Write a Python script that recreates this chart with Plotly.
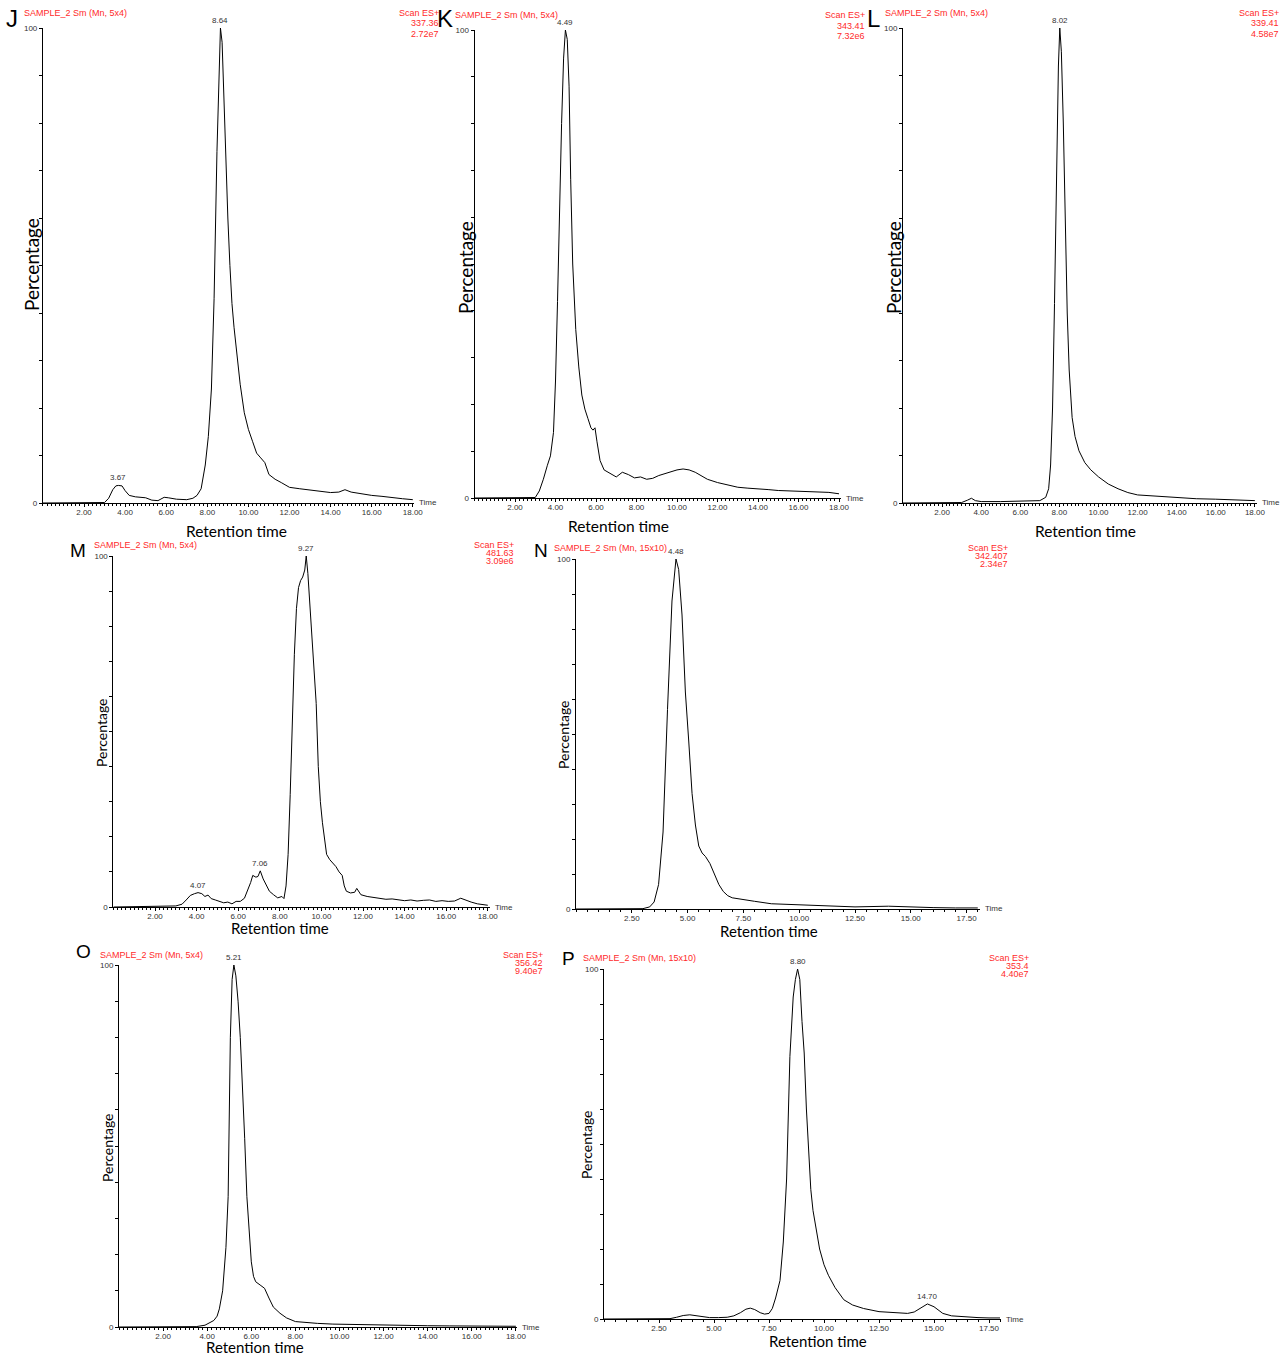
import numpy as np
import plotly.graph_objects as go

W, H = 1287, 1356

# ---------------- data ----------------
j_t = [0, 1.0, 2.0, 3.0, 3.2, 3.4, 3.55, 3.67, 3.85, 4.0,
       4.2, 4.5, 5.0, 5.3, 5.6, 5.9, 6.1, 6.5, 7.0, 7.3,
       7.5, 7.7, 7.9, 8.05, 8.2, 8.33, 8.47, 8.57, 8.64, 8.72,
       8.8, 8.9, 9.0, 9.1, 9.2, 9.3, 9.45, 9.6, 9.8, 10.0,
       10.2, 10.4, 10.6, 10.8, 11.0, 11.3, 11.6, 12.0, 12.5, 13.0,
       13.5, 14.0, 14.4, 14.7, 15.0, 15.5, 16.0, 16.5, 17.0, 17.5,
       18.0]
j_v = [0, 0, 0, 0.1, 1.0, 2.8, 3.6, 3.7, 3.6, 2.6,
       1.6, 1.3, 1.1, 0.6, 0.5, 1.2, 1.1, 0.8, 0.7, 1.0,
       1.6, 3, 8, 14, 24, 43, 74, 93, 100, 97,
       86, 72, 60, 50, 42, 37, 31, 25, 19, 15.5,
       13, 10.5, 9.5, 8.5, 6.0, 5.0, 4.3, 3.3, 3.0, 2.7,
       2.5, 2.2, 2.3, 2.8, 2.3, 1.9, 1.6, 1.4, 1.1, 0.9,
       0.7]

k_t = [0, 1, 2, 3.0, 3.2, 3.4, 3.6, 3.75, 3.9, 4.0,
       4.1, 4.2, 4.3, 4.4, 4.49, 4.58, 4.67, 4.75, 4.85, 5.0,
       5.15, 5.3, 5.45, 5.6, 5.75, 5.85, 5.95, 6.05, 6.2, 6.4,
       6.6, 6.8, 7.0, 7.3, 7.6, 7.9, 8.2, 8.5, 8.8, 9.1,
       9.4, 9.7, 10.0, 10.3, 10.6, 10.9, 11.2, 11.5, 12.0, 12.5,
       13.0, 13.5, 14.0, 14.5, 15.0, 15.5, 16.0, 16.5, 17.0, 17.5,
       18.0]
k_v = [0, 0, 0, 0.1, 1.5, 4, 7, 9, 14, 25,
       42, 62, 80, 94, 100, 98, 88, 68, 50, 36,
       28, 22, 19, 17, 15, 14.5, 15, 12, 8, 6,
       5.5, 5, 4.5, 5.5, 5, 4.3, 4.5, 4.0, 4.2, 4.8,
       5.2, 5.5, 6.0, 6.2, 6.0, 5.5, 4.8, 4.0, 3.3, 2.8,
       2.3, 2.1, 2.0, 1.8, 1.6, 1.5, 1.5, 1.4, 1.3, 1.2,
       0.9]

l_t = [0, 2, 3.0, 3.3, 3.5, 3.7, 4.0, 5.0, 6.0, 7.0,
       7.3, 7.45, 7.55, 7.65, 7.75, 7.85, 7.95, 8.02, 8.1, 8.2,
       8.3, 8.4, 8.5, 8.65, 8.8, 9.0, 9.3, 9.6, 10.0, 10.5,
       11.0, 11.5, 12.0, 13.0, 14.0, 15.0, 16.0, 17.0, 18.0]
l_v = [0, 0, 0.1, 0.6, 1.0, 0.5, 0.3, 0.3, 0.4, 0.5,
       1.2, 3, 8, 20, 42, 68, 92, 100, 95, 80,
       58, 40, 28, 18, 14, 11, 8.5, 7, 5.5, 4,
       3, 2.2, 1.7, 1.4, 1.1, 0.9, 0.8, 0.6, 0.5]

m_t = [0, 1.0, 2.0, 3.0, 3.3, 3.5, 3.7, 3.9, 4.07, 4.25,
       4.4, 4.55, 4.7, 4.9, 5.1, 5.3, 5.5, 5.7, 5.9, 6.1,
       6.3, 6.45, 6.6, 6.7, 6.85, 6.95, 7.06, 7.2, 7.35, 7.5,
       7.7, 7.9, 8.1, 8.2, 8.3, 8.4, 8.5, 8.6, 8.7, 8.8,
       8.9, 9.0, 9.1, 9.2, 9.27, 9.35, 9.45, 9.55, 9.65, 9.75,
       9.85, 9.95, 10.05, 10.15, 10.25, 10.4, 10.55, 10.7, 10.85, 11.0,
       11.1, 11.2, 11.4, 11.6, 11.7, 11.9, 12.2, 12.5, 12.8, 13.1,
       13.4, 13.7, 14.0, 14.3, 14.6, 14.9, 15.2, 15.5, 15.8, 16.1,
       16.4, 16.7, 16.9, 17.2, 17.5, 18.0]
m_v = [0, 0.2, 0.2, 0.3, 0.8, 2, 3.3, 3.8, 4.1, 3.8,
       3.0, 3.4, 2.4, 2.0, 1.5, 1.2, 1.4, 0.9, 1.6, 1.6,
       2.5, 4.5, 7, 9, 8.5, 8.7, 10.3, 8, 6, 4.5,
       3.5, 2.6, 3.0, 2.4, 6, 15, 32, 55, 72, 85,
       91, 93, 94, 96, 100, 95, 85, 75, 66, 58,
       40, 30, 24, 20, 15, 13.5, 12.5, 11.5, 10, 9,
       6, 4.5, 4.0, 4.2, 5.3, 3.5, 3.0, 2.8, 2.5, 2.2,
       2.3, 2.0, 1.8, 2.0, 1.7, 1.9, 2.0, 1.6, 1.8, 1.6,
       1.7, 2.5, 2.0, 1.4, 0.9, 0.5]

n_t = [0, 1, 2, 3.0, 3.3, 3.5, 3.7, 3.9, 4.1, 4.3,
       4.48, 4.6, 4.75, 4.9, 5.05, 5.2, 5.35, 5.5, 5.65, 5.8,
       6.0, 6.2, 6.4, 6.6, 6.8, 7.0, 7.5, 8.0, 8.75, 10.0,
       11.0, 12.5, 14.0, 15.0, 16.0, 17.0, 18.0]
n_v = [0, 0, 0, 0.1, 0.6, 2, 7, 22, 57, 88,
       100, 97, 84, 62, 48, 33, 24, 18, 16, 15,
       13, 10, 7, 5, 3.8, 3.2, 2.6, 2.2, 1.5, 1.2,
       1.0, 0.6, 0.8, 0.5, 0.4, 0.3, 0.3]

o_t = [0, 2, 3.5, 3.9, 4.1, 4.3, 4.45, 4.55, 4.7, 4.85,
       4.95, 5.05, 5.13, 5.21, 5.3, 5.4, 5.5, 5.6, 5.7, 5.8,
       5.9, 6.0, 6.1, 6.2, 6.4, 6.6, 6.8, 7.0, 7.3, 7.6,
       8.0, 8.5, 9.0, 9.7, 10.5, 11.5, 12.5, 14.0, 15.0, 16.0,
       17.0, 18.0]
o_v = [0, 0, 0.1, 0.5, 1.2, 1.8, 3, 5, 10, 22,
       36, 80, 96, 100, 97, 90, 80, 68, 52, 36,
       26, 18, 14, 12.5, 11.6, 10.7, 8, 5.5, 3.8, 2.5,
       1.5, 1.2, 1.0, 0.8, 0.7, 0.5, 0.4, 0.35, 0.3, 0.25,
       0.2, 0.2]

p_t = [0, 2, 3.0, 3.3, 3.6, 3.9, 4.2, 4.5, 4.8, 5.2,
       5.6, 5.9, 6.2, 6.45, 6.65, 6.85, 7.1, 7.3, 7.5, 7.65,
       7.8, 8.0, 8.15, 8.3, 8.45, 8.6, 8.7, 8.8, 8.9, 9.0,
       9.1, 9.2, 9.3, 9.4, 9.5, 9.6, 9.8, 10.0, 10.2, 10.5,
       10.9, 11.3, 11.8, 12.5, 13.2, 13.8, 14.1, 14.4, 14.7, 15.0,
       15.4, 15.8, 16.2, 17.0, 17.5, 18.0]
p_v = [0, 0, 0.1, 0.5, 1.0, 1.2, 1.0, 0.6, 0.4, 0.4,
       0.5, 0.9, 1.8, 2.8, 3.1, 2.7, 1.8, 1.4, 1.6, 3,
       6, 11, 22, 40, 75, 92, 97, 100, 97, 85,
       76, 60, 47, 37, 31, 27, 20, 15.5, 12.5, 9,
       5.5, 4, 3.0, 2.1, 1.8, 1.6, 2.0, 3.2, 4.3, 3.5,
       1.6, 0.9, 0.7, 0.4, 0.3, 0.3]

ticks_2 = [2, 4, 6, 8, 10, 12, 14, 16, 18]
ticks_2_labels = ["2.00", "4.00", "6.00", "8.00", "10.00", "12.00", "14.00", "16.00", "18.00"]
ticks_25 = [2.5, 5, 7.5, 10, 12.5, 15, 17.5]
ticks_25_labels = ["2.50", "5.00", "7.50", "10.00", "12.50", "15.00", "17.50"]
y_ticks = [0, 10, 20, 30, 40, 50, 60, 70, 80, 90, 100]
y_tick_labels = ["0", "", "", "", "", "", "", "", "", "", "100"]

# ---------------- panels (layout in pixels) ----------------
panels = [
    dict(letter="J", t=j_t, v=j_v, peaks=[3.67, 8.64], ticks=ticks_2, tl=ticks_2_labels, minor=0.2,
         x0=42.9, ppu=20.55, xmax=18.06, ybot=503, ytop=28,
         head="SAMPLE_2 Sm (Mn, 5x4)", mz="337.36", tic="2.72e7",
         letpos=(12, 18, 24), headpos=(22, 13), rpos=(441, 13, 10.5),
         rt=(236, 531, 15.5), pc=(32, 265, 19)),
    dict(letter="K", t=k_t, v=k_v, peaks=[4.49], ticks=ticks_2, tl=ticks_2_labels, minor=0.2,
         x0=474.5, ppu=20.25, xmax=18.1, ybot=498, ytop=30,
         head="SAMPLE_2 Sm (Mn, 5x4)", mz="343.41", tic="7.32e6",
         letpos=(445, 18, 24), headpos=(453, 15), rpos=(867, 15, 10.5),
         rt=(618, 526, 15.5), pc=(465, 268, 19)),
    dict(letter="L", t=l_t, v=l_v, peaks=[8.02], ticks=ticks_2, tl=ticks_2_labels, minor=0.2,
         x0=903, ppu=19.55, xmax=18.1, ybot=503, ytop=28,
         head="SAMPLE_2 Sm (Mn, 5x4)", mz="339.41", tic="4.58e7",
         letpos=(873, 18, 24), headpos=(883, 13), rpos=(1281, 13, 10.5),
         rt=(1085, 531, 15.5), pc=(893, 268, 19)),
    dict(letter="M", t=m_t, v=m_v, peaks=[4.07, 7.06, 9.27], ticks=ticks_2, tl=ticks_2_labels, minor=0.2,
         x0=113.4, ppu=20.8, xmax=18.1, ybot=907, ytop=556,
         head="SAMPLE_2 Sm (Mn, 5x4)", mz="481.63", tic="3.09e6",
         letpos=(78, 550, 19), headpos=(92, 545), rpos=(516, 545, 8),
         rt=(280, 928, 15), pc=(101, 733, 14)),
    dict(letter="N", t=n_t, v=n_v, peaks=[4.48], ticks=ticks_25, tl=ticks_25_labels, minor=0.5,
         x0=576, ppu=22.32, xmax=18.1, ybot=909, ytop=559,
         head="SAMPLE_2 Sm (Mn, 15x10)", mz="342.407", tic="2.34e7",
         letpos=(541, 550, 19), headpos=(552, 548), rpos=(1010, 548, 8),
         rt=(769, 931, 15), pc=(563, 735, 14)),
    dict(letter="O", t=o_t, v=o_v, peaks=[5.21], ticks=ticks_2, tl=ticks_2_labels, minor=0.2,
         x0=119, ppu=22.05, xmax=18.05, ybot=1327, ytop=965,
         head="SAMPLE_2 Sm (Mn, 5x4)", mz="356.42", tic="9.40e7",
         letpos=(83, 951, 19), headpos=(98, 955), rpos=(545, 955, 8),
         rt=(255, 1347, 15), pc=(107, 1148, 14)),
    dict(letter="P", t=p_t, v=p_v, peaks=[8.80, 14.70], ticks=ticks_25, tl=ticks_25_labels, minor=0.5,
         x0=604, ppu=22.0, xmax=18.03, ybot=1319, ytop=969,
         head="SAMPLE_2 Sm (Mn, 15x10)", mz="353.4", tic="4.40e7",
         letpos=(568, 958, 19), headpos=(581, 958), rpos=(1031, 958, 8),
         rt=(818, 1341, 15), pc=(586, 1145, 14)),
]

RED = "#ff2a2a"
SANS = "Liberation Sans, Arial, sans-serif"
LABEL = "Lato, Open Sans, sans-serif"

fig = go.Figure()
annotations = []


def txt(px, py, text, size, color="black", xanchor="left", yanchor="middle", angle=0, family=SANS):
    annotations.append(dict(x=px / W, y=1 - py / H, xref="paper", yref="paper", text=text,
                            showarrow=False, xanchor=xanchor, yanchor=yanchor, textangle=angle,
                            font=dict(size=size, color=color, family=family)))


layout_axes = {}
for i, p in enumerate(panels, start=1):
    xa = "x" if i == 1 else f"x{i}"
    ya = "y" if i == 1 else f"y{i}"
    fig.add_trace(go.Scatter(x=p["t"], y=p["v"], mode="lines", xaxis=xa, yaxis=ya,
                             line=dict(color="black", width=1), hoverinfo="skip"))
    xpx1 = p["x0"] + p["ppu"] * p["xmax"]
    layout_axes["xaxis" if i == 1 else f"xaxis{i}"] = dict(
        domain=[p["x0"] / W, xpx1 / W], range=[0, p["xmax"]], anchor=ya, automargin=False,
        showline=True, linecolor="black", linewidth=1, showgrid=False, zeroline=False,
        tickmode="array", tickvals=p["ticks"], ticktext=p["tl"], ticks="outside", ticklen=3,
        ticklabelstandoff=-2,
        tickcolor="black", tickfont=dict(size=8, color="#333", family=SANS),
        minor=dict(tickmode="linear", tick0=0, dtick=p["minor"], ticks="outside", ticklen=2,
                   tickcolor="black", showgrid=False),
    )
    layout_axes["yaxis" if i == 1 else f"yaxis{i}"] = dict(
        domain=[1 - p["ybot"] / H, 1 - p["ytop"] / H], range=[0, 100], anchor=xa, automargin=False,
        showline=True, linecolor="black", linewidth=1, showgrid=False, zeroline=False,
        tickmode="array", tickvals=y_ticks, ticktext=y_tick_labels, ticks="outside", ticklen=3,
        tickcolor="black", tickfont=dict(size=8, color="#333", family=SANS),
    )
    for pk in p["peaks"]:
        val = float(np.interp(pk, p["t"], p["v"]))
        annotations.append(dict(x=pk, y=val, xref=xa, yref=ya, text=f"{pk:.2f}", showarrow=False,
                                xanchor="center", yanchor="bottom", yshift=1,
                                font=dict(size=8, color="#333", family=SANS)))
    annotations.append(dict(x=p["xmax"], y=0, xref=xa, yref=ya, text="Time", showarrow=False,
                            xanchor="left", yanchor="middle", xshift=3,
                            font=dict(size=8, color="#333", family=SANS)))
    lx, ly, ls = p["letpos"]
    txt(lx, ly, p["letter"], ls, xanchor="center")
    hx, hy = p["headpos"]
    txt(hx, hy, p["head"], 9, color=RED)
    rx, ry, rs = p["rpos"]
    txt(rx, ry, "Scan ES+", 9, color=RED, xanchor="right")
    txt(rx, ry + rs, p["mz"], 9, color=RED, xanchor="right")
    txt(rx, ry + 2 * rs, p["tic"], 9, color=RED, xanchor="right")
    rtx, rty, rts = p["rt"]
    txt(rtx, rty, "Retention time", rts, xanchor="center", family=LABEL)
    pcx, pcy, pcs = p["pc"]
    txt(pcx, pcy, "Percentage", pcs, xanchor="center", angle=-90, family=LABEL)

fig.update_layout(width=W, height=H, margin=dict(l=0, r=0, t=0, b=0, pad=0, autoexpand=False),
                  paper_bgcolor="white", plot_bgcolor="white", showlegend=False,
                  annotations=annotations, **layout_axes)

fig.write_html("out.html", config={"displayModeBar": False},
               post_script="document.body.style.margin='0';document.body.style.overflow='hidden';")
